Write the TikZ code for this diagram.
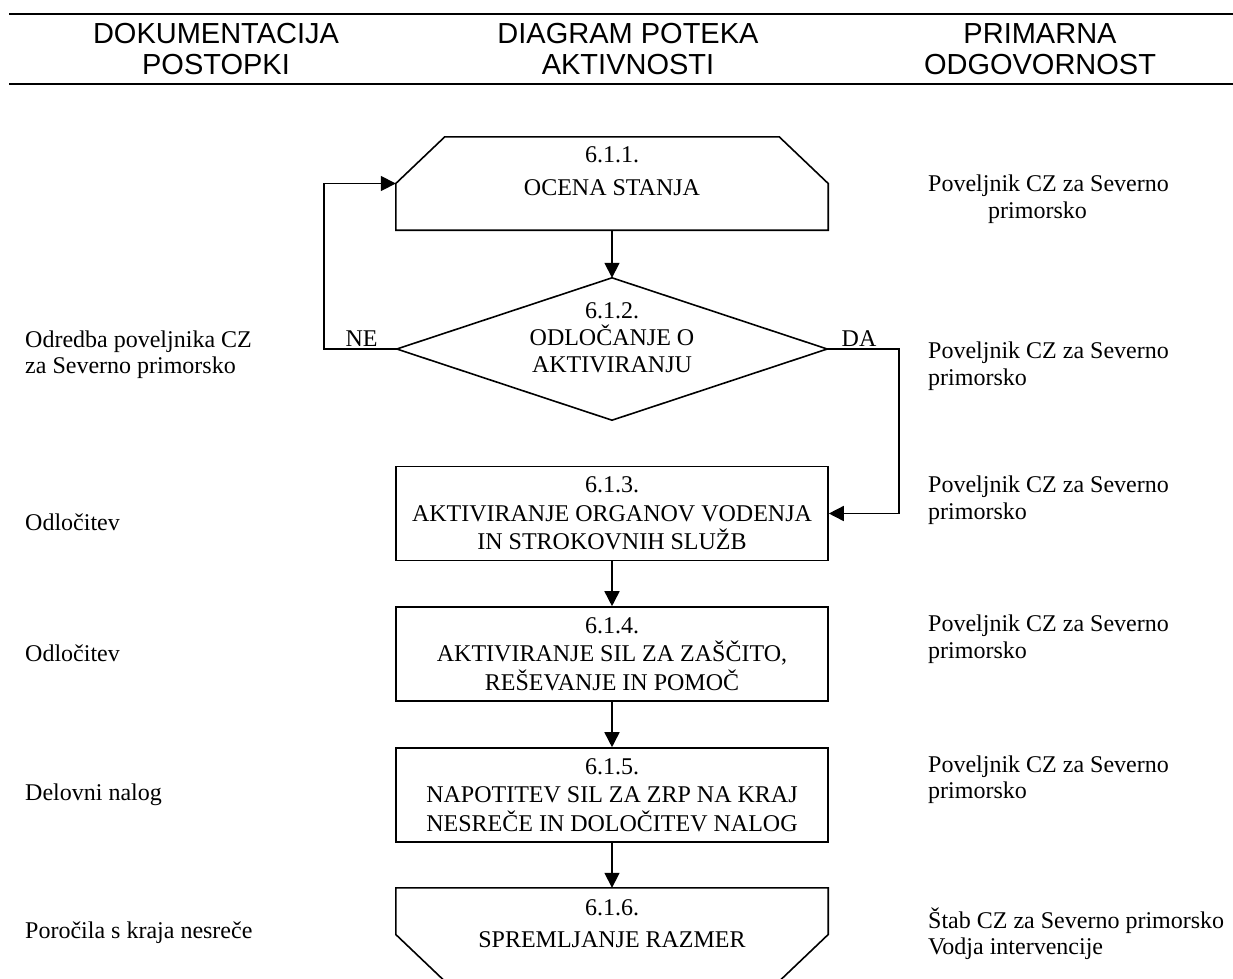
\documentclass[tikz,border=0pt]{standalone}
\usepackage{fontspec}
\setmainfont{Liberation Serif}
\newfontfamily\hdrfont{Liberation Sans}
\usetikzlibrary{arrows.meta}
\begin{document}
\begin{tikzpicture}[x=1pt,y=-1pt,
  hdr/.style={font=\hdrfont\fontsize{29}{30.5}\selectfont, align=center, anchor=base, inner sep=0pt},
  body/.style={font=\fontsize{24}{28.5}\selectfont, inner sep=0pt},
  boxtxt/.style={body, align=center, anchor=base},
  side/.style={body, font=\fontsize{24}{26.5}\selectfont, align=left, anchor=base west},
  proc/.style={body, align=center, draw, line width=1.6pt, minimum width=432pt, minimum height=94pt},
  shapebox/.style={minimum width=432pt, minimum height=93pt, inner sep=0pt},
  flow/.style={line width=1.6pt},
  arr/.style={flow, -{Triangle[length=15pt,width=15pt]}},
  headrule/.style={line width=2.2pt}
]
\useasboundingbox (0,0) rectangle (1233,978);
\clip (0,0) rectangle (1233,978);

% header (base anchor = baseline of last line)
\coordinate (h1l) at (9,14);  \coordinate (h1r) at (1233,14);
\coordinate (h2l) at (9,84);  \coordinate (h2r) at (1233,84);
\draw[headrule] (h1l) -- (h1r);
\draw[headrule] (h2l) -- (h2r);
\node[hdr] (hA) at (216,74) {DOKUMENTACIJA\\POSTOPKI};
\node[hdr] (hB) at (628,74) {DIAGRAM POTEKA\\AKTIVNOSTI};
\node[hdr] (hC) at (1040,74) {PRIMARNA\\ODGOVORNOST};

% box 1
\node[shapebox] (b1) at (612,183.5) {};
\draw[flow] (b1.south west) -- (b1.west) -- ([xshift=49pt]b1.north west)
  -- ([xshift=-49pt]b1.north east) -- (b1.east) -- (b1.south east) -- cycle;
\node[boxtxt] (t1) at (612,195) {6.1.1.\\[4.5pt]OCENA STANJA};

% decision
\node[minimum width=430pt, minimum height=142pt, inner sep=0pt] (d) at (612,349) {};
\draw[flow] (d.north) -- (d.east) -- (d.south) -- (d.west) -- cycle;
\node[boxtxt, font=\fontsize{24}{27}\selectfont] (t2) at (612,372.5) {6.1.2.\\ODLOČANJE O\\AKTIVIRANJU};

% process boxes
\node[proc] (b3) at (612,513.5) {6.1.3.\\AKTIVIRANJE ORGANOV VODENJA\\IN STROKOVNIH SLUŽB};
\node[proc] (b4) at (612,654) {6.1.4.\\AKTIVIRANJE SIL ZA ZAŠČITO,\\REŠEVANJE IN POMOČ};
\node[proc] (b5) at (612,795) {6.1.5.\\NAPOTITEV SIL ZA ZRP NA KRAJ\\NESREČE IN DOLOČITEV NALOG};

% box 6
\node[shapebox] (b6) at (612,934.5) {};
\draw[flow] (b6.north west) -- (b6.west) -- ([xshift=49pt]b6.south west)
  -- ([xshift=-49pt]b6.south east) -- (b6.east) -- (b6.north east) -- cycle;
\node[boxtxt] (t6) at (612,947) {6.1.6.\\[3.5pt]SPREMLJANJE RAZMER};

% connectors
\draw[arr] (b1.south) -- (d.north);
\draw[arr] (b3.south) -- (b4.north);
\draw[arr] (b4.south) -- (b5.north);
\draw[arr] (b5.south) -- (b6.north);
\coordinate (ne) at (324,183.5);
\draw[arr] (d.west) -| (ne) -- (b1.west);
\coordinate (da) at (899,349);
\draw[arr] (d.east) -- (da) |- (b3.east);
\node[body, anchor=base] (lne) at (361.5,346) {NE};
\node[body, anchor=base] (lda) at (859,346) {DA};

% left column
\node[side] (l1) at (25,373.5) {Odredba poveljnika CZ\\za Severno primorsko};
\node[side] (l2) at (25,530) {Odločitev};
\node[side] (l3) at (25,661) {Odločitev};
\node[side] (l4) at (25,800) {Delovni nalog};
\node[side] (l5) at (25,938) {Poročila s kraja nesreče};

% right column
\node[side] (r1) at (928,218) {Poveljnik CZ za Severno\\\hspace*{60pt}primorsko};
\node[side] (r2) at (928,385) {Poveljnik CZ za Severno\\primorsko};
\node[side] (r3) at (928,519) {Poveljnik CZ za Severno\\primorsko};
\node[side] (r4) at (928,658) {Poveljnik CZ za Severno\\primorsko};
\node[side] (r5) at (928,798.5) {Poveljnik CZ za Severno\\primorsko};
\node[side] (r6) at (928,954.5) {Štab CZ za Severno primorsko\\Vodja intervencije};
\end{tikzpicture}
\end{document}
